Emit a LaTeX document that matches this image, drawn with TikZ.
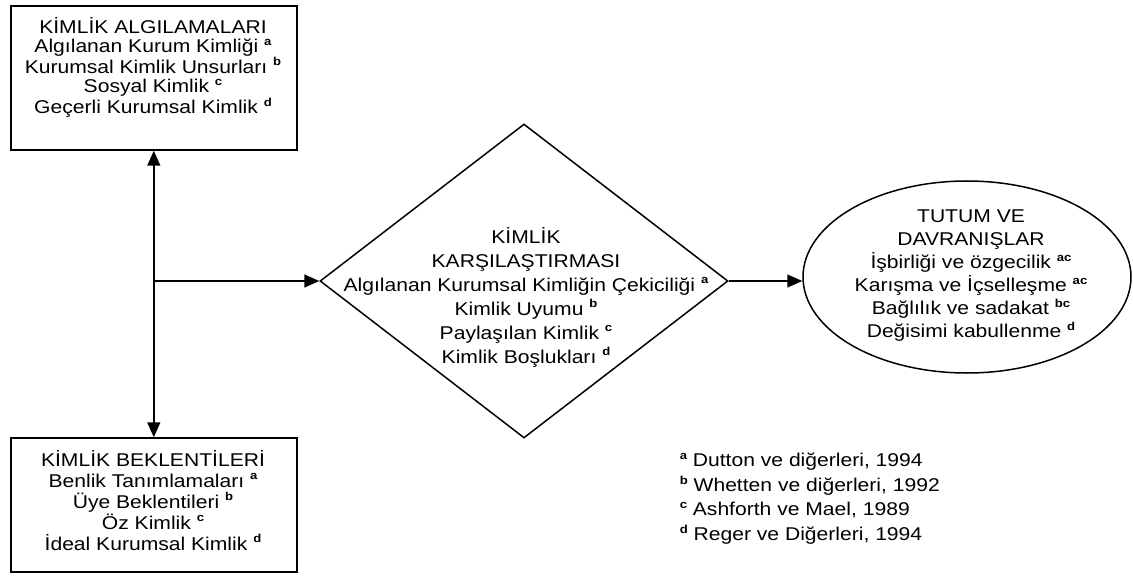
\documentclass[tikz,border=0pt]{standalone}
\usepackage{fontspec}
\setmainfont{Liberation Sans}[FakeStretch=1.14]
\usepackage{tikz}
\usetikzlibrary{shapes, arrows.meta, positioning, calc}
\newcommand{\refmark}[1]{\raisebox{0.4em}{\fontsize{11.5}{11.5}\selectfont\bfseries #1}}

\begin{document}
\begin{tikzpicture}[x=1pt, y=-1pt, line width=1.5pt,
  >={Triangle[length=15pt, width=13pt]},
  box/.style={draw, rectangle, inner sep=0pt, minimum width=286pt},
  txt/.style={align=center, inner sep=0pt, anchor=north},
  boxtxt/.style={txt, font=\fontsize{18.5}{19.5}\selectfont},
  bigtxt/.style={txt, font=\fontsize{18.5}{24}\selectfont}]
  \useasboundingbox (0,0) rectangle (1133,583);
  % identity perceptions and expectations
  \node[box, minimum height=144pt] (perc) at (153.8,78) {};
  \node[boxtxt] (percTxt) at (153,16.5) {KİMLİK ALGILAMALARI\\ Algılanan Kurum Kimliği \refmark{a}\\ Kurumsal Kimlik Unsurları \refmark{b}\\ Sosyal Kimlik \refmark{c}\\ Geçerli Kurumsal Kimlik \refmark{d}};
  \node[box, minimum height=134pt] (expc) at (153.8,505) {};
  \node[boxtxt, font=\fontsize{18.5}{21}\selectfont] (expcTxt) at (153,449.5) {KİMLİK BEKLENTİLERİ\\ Benlik Tanımlamaları \refmark{a}\\ Üye Beklentileri \refmark{b}\\ Öz Kimlik \refmark{c}\\ İdeal Kurumsal Kimlik \refmark{d}};
  % comparison
  \node[draw, diamond, inner sep=0pt, minimum width=408pt, minimum height=314pt] (cmp) at (524,281) {};
  \node[bigtxt] (cmpTxt) at (526,226.5) {KİMLİK\\ KARŞILAŞTIRMASI\\ Algılanan Kurumsal Kimliğin Çekiciliği \refmark{a}\\ Kimlik Uyumu \refmark{b}\\ Paylaşılan Kimlik \refmark{c}\\ Kimlik Boşlukları \refmark{d}};
  % outcomes
  \node[draw, ellipse, inner sep=0pt, minimum width=328pt, minimum height=192pt] (att) at (967,277) {};
  \node[txt, font=\fontsize{18.5}{23}\selectfont] (attTxt) at (971,209.5) {TUTUM VE\\ DAVRANIŞLAR\\ İşbirliği ve özgecilik \refmark{ac}\\ Karışma ve İçselleşme \refmark{ac}\\ Bağlılık ve sadakat \refmark{bc}\\ Değisimi kabullenme \refmark{d}};
  % sources
  \node[txt, anchor=north west, align=left, font=\fontsize{18.5}{24.5}\selectfont] (refs) at (679,452.6) {\refmark{a} Dutton ve diğerleri, 1994\\ \refmark{b} Whetten ve diğerleri, 1992\\ \refmark{c} Ashforth ve Mael, 1989\\ \refmark{d} Reger ve Diğerleri, 1994};
  % connectors
  \draw[<->] (perc.south) -- (expc.north);
  \coordinate (split) at (perc.south |- cmp.west);
  \draw[->] (split) -- (cmp.west);
  \draw[->] (cmp.east) -- (cmp.east -| att.west);
\end{tikzpicture}
\end{document}
